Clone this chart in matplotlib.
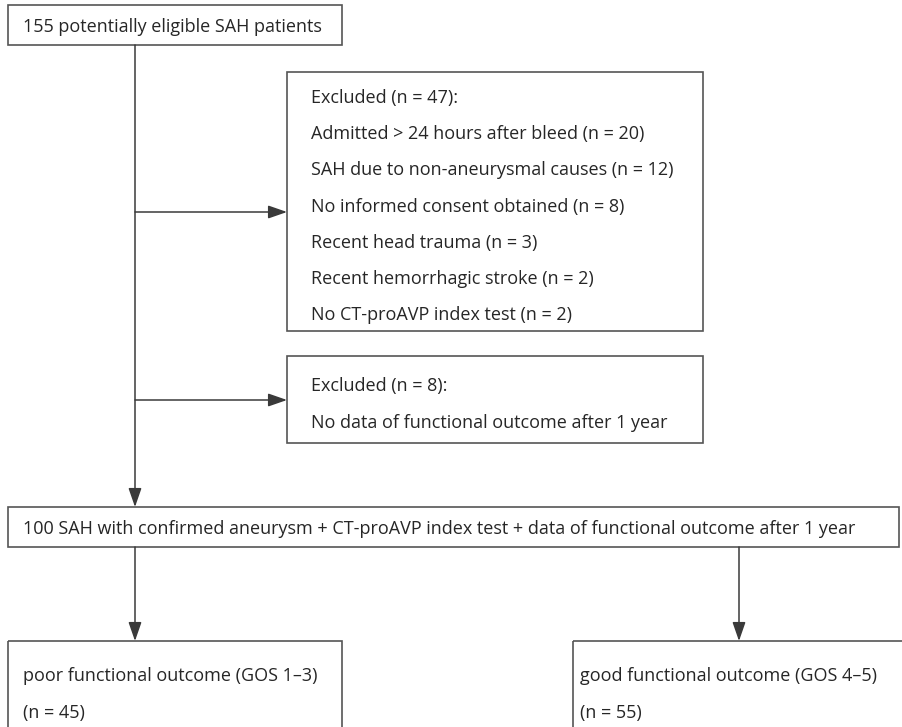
import matplotlib
matplotlib.use("Agg")
import matplotlib.pyplot as plt
from matplotlib.patches import Rectangle, FancyArrowPatch

plt.rcParams['font.family'] = ['Open Sans', 'DejaVu Sans']

# ----- texts of the flow chart -----
top_text = ["155 potentially eligible SAH patients"]
excl1_text = [
    "Excluded (n = 47):",
    "Admitted > 24 hours after bleed (n = 20)",
    "SAH due to non-aneurysmal causes (n = 12)",
    "No informed consent obtained (n = 8)",
    "Recent head trauma (n = 3)",
    "Recent hemorrhagic stroke (n = 2)",
    "No CT-proAVP index test (n = 2)",
]
excl2_text = [
    "Excluded (n = 8):",
    "No data of functional outcome after 1 year",
]
mid_text = ["100 SAH with confirmed aneurysm + CT-proAVP index test + data of functional outcome after 1 year"]
poor_text = ["poor functional outcome (GOS 1\u20133)", "(n = 45)"]
good_text = ["good functional outcome (GOS 4\u20135)", "(n = 55)"]

W, H = 902, 727
fig = plt.figure(figsize=(W / 100, H / 100), dpi=100)
ax = fig.add_axes([0, 0, 1, 1])
ax.set_xlim(0, W)
ax.set_ylim(H, 0)
ax.axis("off")

box_col = "#555555"
line_col = "#3a3a3a"
fs = 13


def box(x0, y0, x1, y1, lines, tx, ty0, dy):
    ax.add_patch(Rectangle((x0, y0), x1 - x0, y1 - y0, fill=False,
                           edgecolor=box_col, linewidth=1.2))
    for k, s in enumerate(lines):
        ax.text(tx, ty0 + k * dy, s, fontsize=fs, color="#262626",
                ha="left", va="center")


def arrow(p0, p1, head=True):
    style = "-|>,head_length=1.15,head_width=0.4" if head else "-"
    ax.add_patch(FancyArrowPatch(p0, p1, arrowstyle=style, mutation_scale=10,
                                 color=line_col, linewidth=1.1,
                                 shrinkA=0, shrinkB=0))


box(8, 5, 342, 45, top_text, 23, 27, 0)
box(287, 72, 703, 331, excl1_text, 311, 98, 36.2)
box(287, 356, 703, 443, excl2_text, 311, 386, 37)
box(8, 507, 899, 547, mid_text, 23, 529, 0)
box(8, 641, 342, 740, poor_text, 23, 676, 37)
box(573, 641, 910, 740, good_text, 580, 676, 37)

# main trunk and side branches
arrow((135, 45), (135, 507))
arrow((135, 212), (287, 212))
arrow((135, 400), (287, 400))
# outcome branches
arrow((135, 547), (135, 641))
arrow((739, 547), (739, 641))

fig.savefig("out.png", dpi=100)
